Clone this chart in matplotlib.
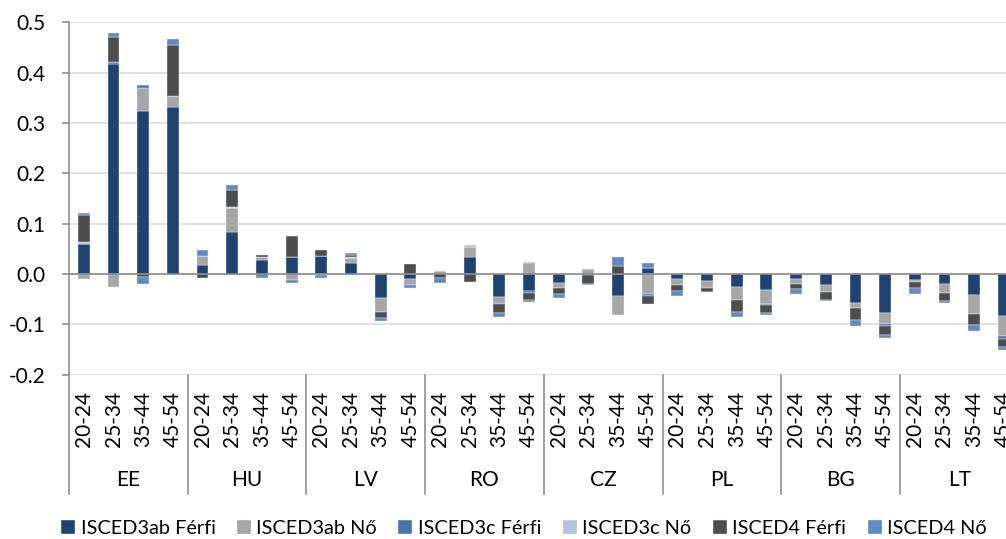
import numpy as np
import matplotlib
matplotlib.use("Agg")
import matplotlib.pyplot as plt
from matplotlib.transforms import blended_transform_factory

plt.rcParams["font.family"] = ["Lato", "DejaVu Sans"]

# ── Adatok ──
countries = ["EE", "HU", "LV", "RO", "CZ", "PL", "BG", "LT"]
ages = ["20-24", "25-34", "35-44", "45-54"]

series_names = ["ISCED3ab Férfi", "ISCED3ab Nő", "ISCED3c Férfi",
                "ISCED3c Nő", "ISCED4 Férfi", "ISCED4 Nő"]
series_colors = ["#1F4270", "#A6A6A6", "#4A74AE",
                 "#B3C4DC", "#4D4D4D", "#6089C5"]

isced3ab_ferfi = [0.060, 0.418, 0.324, 0.332,  0.017, 0.083, 0.028, 0.034,
                  0.036, 0.021, -0.048, -0.010,  0.000, 0.034, -0.046, -0.033,
                  -0.018, -0.003, -0.043, 0.011,  -0.011, -0.015, -0.026, -0.031,
                  -0.010, -0.022, -0.057, -0.077,  -0.013, -0.019, -0.042, -0.084]
isced3ab_no = [-0.010, -0.026, 0.045, 0.021,  0.019, 0.048, 0.005, -0.012,
               0.000, 0.011, -0.028, -0.012,  0.006, 0.020, -0.013, 0.022,
               -0.010, 0.009, -0.038, -0.039,  -0.011, -0.013, -0.025, -0.028,
               -0.009, -0.013, -0.011, -0.022,  -0.003, -0.019, -0.038, -0.040]
isced3c_ferfi = [0.000, 0.004, 0.006, 0.000,  0, 0, 0, 0,
                 0, 0, 0, 0,  0, 0, 0, -0.004,
                 0, 0, 0, -0.004,  0, 0, 0, -0.003,
                 0, 0, 0, -0.005,  0, 0, 0, -0.005]
isced3c_no = [0.004, 0.000, 0.000, 0.001,  0, 0.002, 0, 0,
              -0.002, 0.002, 0, 0,  0, 0.003, 0, 0.002,
              0, 0, 0, 0,  0, 0, 0, 0,
              0, 0, 0, 0,  0, 0, 0, 0]
isced4_ferfi = [0.054, 0.048, -0.007, 0.100,  -0.009, 0.034, 0.004, 0.042,
                0.012, 0.003, -0.011, 0.020,  -0.009, -0.016, -0.019, -0.015,
                -0.011, -0.016, 0.016, -0.017,  -0.011, -0.007, -0.024, -0.015,
                -0.010, -0.017, -0.023, -0.018,  -0.012, -0.016, -0.021, -0.017]
isced4_no = [0.003, 0.009, -0.013, 0.013,  0.012, 0.009, -0.009, -0.005,
             -0.007, 0.005, -0.007, -0.005,  -0.009, 0.000, -0.007, -0.003,
             -0.009, -0.003, 0.017, 0.011,  -0.011, -0.001, -0.011, -0.005,
             -0.011, -0.002, -0.013, -0.005,  -0.011, -0.003, -0.012, -0.005]

series = [isced3ab_ferfi, isced3ab_no, isced3c_ferfi,
          isced3c_no, isced4_ferfi, isced4_no]

n_age = len(ages)
x = np.arange(len(countries) * n_age)

FS = 15

# ── Ábra ──
fig = plt.figure(figsize=(10.06, 5.39), dpi=100)
# a rajzterület jobbra kilóg a képből (mint az eredetin)
ax = fig.add_axes([0.0686, 0.305, 0.944, 0.6536])

ax.set_ylim(-0.2, 0.5)
ax.set_xlim(-0.5, len(x) - 0.5)
ax.set_yticks(np.arange(-0.2, 0.51, 0.1))
ax.yaxis.set_major_formatter(matplotlib.ticker.FuncFormatter(lambda v, _: f"{v:.1f}"))
ax.grid(axis="y", color="#D9D9D9", linewidth=1.1, zorder=0)
ax.set_axisbelow(True)

pos_bottom = np.zeros(len(x))
neg_bottom = np.zeros(len(x))
for name, vals, col in zip(series_names, series, series_colors):
    v = np.asarray(vals, dtype=float)
    bottom = np.where(v >= 0, pos_bottom, neg_bottom)
    ax.bar(x, v, bottom=bottom, width=0.4, color=col, label=name,
           edgecolor="#EEF2F8", linewidth=0.3, zorder=3)
    pos_bottom += np.clip(v, 0, None)
    neg_bottom += np.clip(v, None, 0)

ax.axhline(0, color="#868686", linewidth=1.1, zorder=4)

for s in ax.spines.values():
    s.set_visible(False)

# bal tengely + csoportelválasztók lenyúlnak a feliratokig
trans = blended_transform_factory(ax.transData, ax.transAxes)
for k in range(len(countries)):
    ax.plot([k * n_age - 0.5] * 2, [-0.339, 1.0 if k == 0 else 0.0],
            transform=trans, color="#868686", linewidth=1.1,
            clip_on=False, zorder=5)
    ax.text(k * n_age + (n_age - 1) / 2, -0.299, countries[k],
            transform=trans, ha="center", va="center", fontsize=FS,
            color="#000000")

ax.set_xticks(x)
ax.set_xticklabels(ages * len(countries), rotation=90, fontsize=FS)
ax.tick_params(axis="x", length=0, pad=11.5)
ax.tick_params(axis="y", length=5, width=1.1, color="#868686",
               pad=12, labelsize=FS)

fig.legend(loc="center", bbox_to_anchor=(524 / 1006, 1 - 528 / 539),
           ncol=6, frameon=False, fontsize=14.3, handlelength=0.7,
           handleheight=0.7, handletextpad=0.28, columnspacing=1.08,
           borderaxespad=0)

fig.savefig("out.png", dpi=100)
